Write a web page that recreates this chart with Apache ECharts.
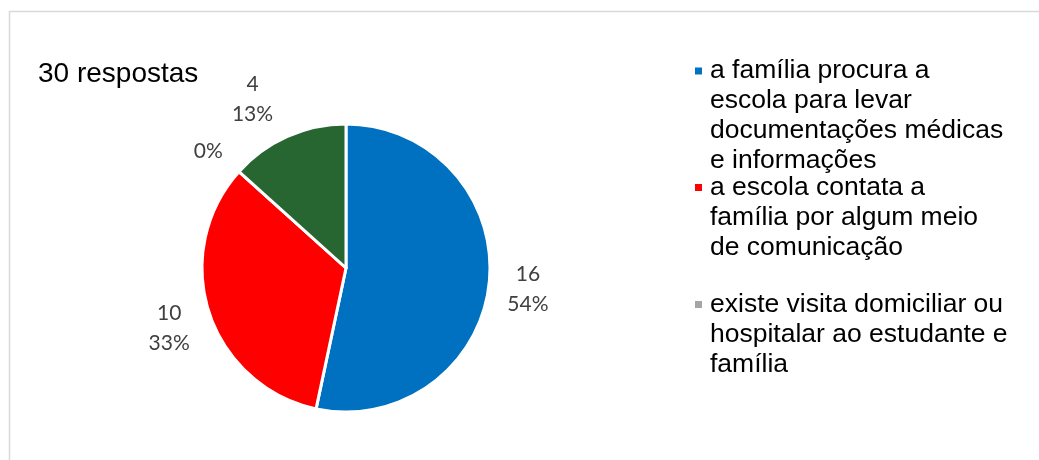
<!DOCTYPE html>
<html>
<head>
<meta charset="utf-8">
<script src="https://cdn.jsdelivr.net/npm/echarts@6/dist/echarts.min.js"></script>
<style>
  html, body { margin: 0; padding: 0; background: #fff; }
  #chart { width: 1039px; height: 460px; }
</style>
</head>
<body>
<div id="chart"></div>
<script>
// Categories (legend text keeps its own line breaks)
const categorias = [
  'a família procura a\nescola para levar\ndocumentações médicas\ne informações',
  'a escola contata a\nfamília por algum meio\nde comunicação',
  'existe visita domiciliar ou\nhospitalar ao estudante e\nfamília',
  'outros'
];
// Number of answers per category
const respostas = [16, 10, 0, 4];
const totalTexto = '30 respostas';
const cores = ['#0070C0', '#FF0000', '#A5A5A5', '#276630'];

const center = [346, 268];

// small nudges for the data labels so they don't crowd each other
const labelOffsets = [[-5, 2], [2, 2], [2, 9], [-17, 3]];

const sliceData = categorias.map((n, i) => ({
  name: n, value: respostas[i], itemStyle: { color: cores[i] }
}));
const labelData = categorias.map((n, i) => ({
  name: n, value: respostas[i], label: { offset: labelOffsets[i] }
}));

// one legend block per entry; blank lines above the text keep the
// icon level with the first line of its (vertically centred) label
const legendIconY = [71, 187.5, 304.5];
const lineH = 30;
const legends = [0, 1, 2].map(i => {
  const n = categorias[i].split('\n').length;
  return {
    data: [categorias[i]],
    orient: 'vertical',
    left: 693,
    top: legendIconY[i] - (lineH * (2 * n - 1)) / 2,
    padding: 0,
    icon: 'rect',
    itemWidth: 9,
    itemHeight: 9,
    itemGap: 0,
    selectedMode: false,
    formatter: name => '\n'.repeat(n - 1) + name,
    textStyle: {
      fontFamily: 'Liberation Sans',
      fontSize: 26.5,
      lineHeight: lineH,
      color: '#000',
      padding: [0, 0, 0, 2]
    }
  };
});

const chart = echarts.init(document.getElementById('chart'), null, { renderer: 'canvas' });
chart.setOption({
  animation: false,
  backgroundColor: '#fff',
  title: {
    text: totalTexto,
    left: 38,
    top: 58,
    padding: 0,
    textStyle: { fontFamily: 'Liberation Sans', fontSize: 28, fontWeight: 'normal', color: '#000', lineHeight: 32 }
  },
  legend: legends,
  graphic: [{
    type: 'rect',
    silent: true,
    shape: { x: 9.5, y: 11.5, width: 1100, height: 500 },
    style: { fill: 'none', stroke: '#D9D9D9', lineWidth: 1.5 }
  }],
  series: [
    {
      type: 'pie',
      center: center,
      radius: [0, 144],
      startAngle: 90,
      clockwise: true,
      percentPrecision: 0,
      itemStyle: { borderColor: '#fff', borderWidth: 3 },
      label: { show: false },
      labelLine: { show: false },
      emphasis: { disabled: true },
      data: sliceData
    },
    {
      // ring carrying the value / percentage labels
      type: 'pie',
      center: center,
      radius: [185, 185],
      startAngle: 90,
      clockwise: true,
      percentPrecision: 0,
      silent: true,
      itemStyle: { color: 'rgba(0,0,0,0)', borderWidth: 0 },
      labelLine: { show: false },
      emphasis: { disabled: true },
      label: {
        show: true,
        position: 'inside',
        fontFamily: 'Lato',
        fontSize: 21,
        lineHeight: 30,
        color: '#404040',
        align: 'center',
        formatter: p => p.value === 0 ? p.percent + '%' : p.value + '\n' + p.percent + '%'
      },
      data: labelData
    }
  ]
});
</script>
</body>
</html>
